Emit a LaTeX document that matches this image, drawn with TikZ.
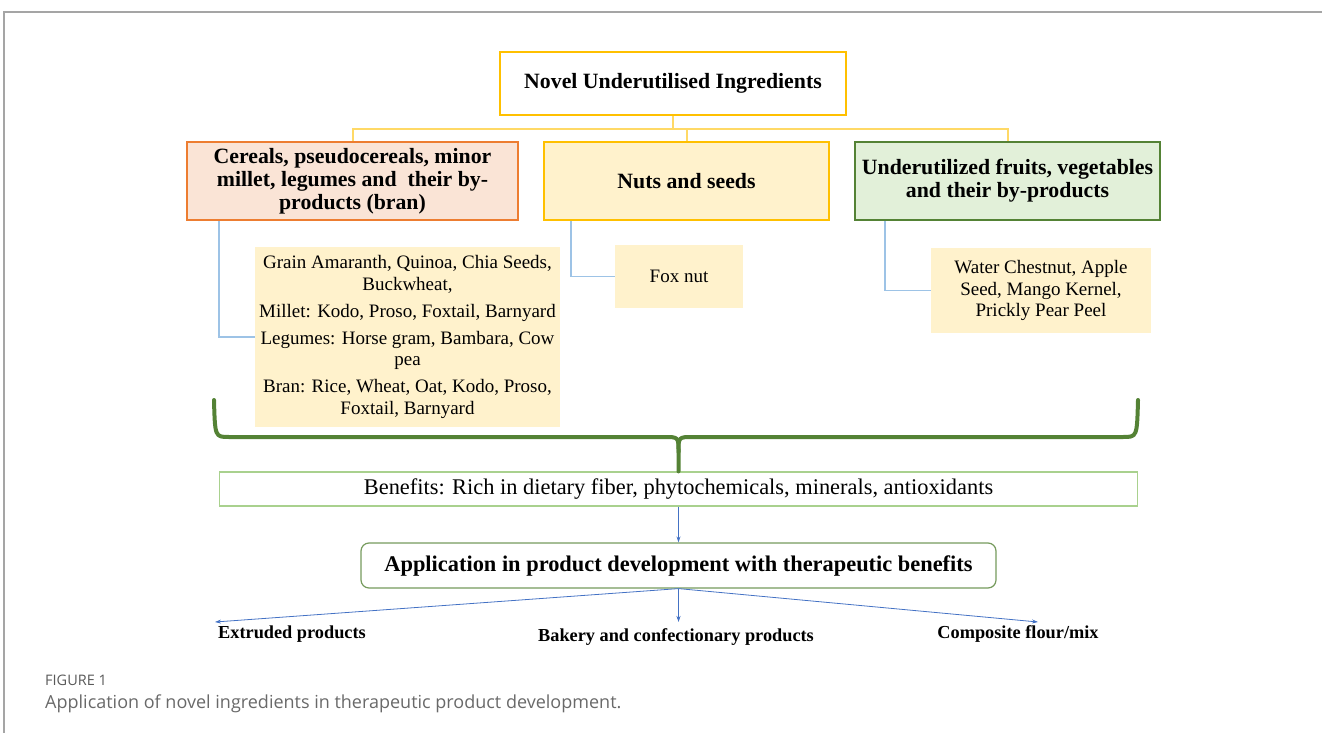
\documentclass[tikz,border=0pt]{standalone}
\usepackage{fontspec}
\setmainfont{Liberation Serif}
\newfontfamily\capfont{Open Sans}
\usetikzlibrary{arrows.meta,positioning}
\definecolor{framegray}{RGB}{165,165,165}
\definecolor{capgray}{RGB}{105,105,105}
\definecolor{goldline}{RGB}{255,192,0}
\definecolor{goldfill}{RGB}{255,242,204}
\definecolor{treegold}{RGB}{255,217,102}
\definecolor{orangeline}{RGB}{237,125,49}
\definecolor{orangefill}{RGB}{250,228,214}
\definecolor{leafgreen}{RGB}{84,130,53}
\definecolor{greenfill}{RGB}{226,240,217}
\definecolor{palegreen}{RGB}{169,209,142}
\definecolor{linkblue}{RGB}{157,195,230}
\definecolor{arrowblue}{RGB}{68,114,196}
\tikzstyle{topbox}=[rectangle,draw=goldline,line width=2.5pt,fill=white,
                  minimum width=346pt,minimum height=63pt,align=center,
                  font=\fontsize{21.8}{24}\selectfont\bfseries]
\tikzstyle{catbox}=[rectangle,line width=2.5pt,minimum height=78pt,align=center,
                  inner sep=6pt,font=\fontsize{21.8}{23}\selectfont\bfseries]
\tikzstyle{itembox}=[rectangle,fill=goldfill,align=center,inner sep=4pt,
                  font=\fontsize{19}{21.5}\selectfont]
\tikzstyle{tree}=[draw=treegold,line width=2pt]
\tikzstyle{link}=[draw=linkblue,line width=1.5pt]
\tikzstyle{brace}=[draw=leafgreen,line width=4pt,line cap=round]
\tikzstyle{arrow}=[-{Stealth[length=6pt,width=4pt]},line width=0.8pt,draw=arrowblue]
\tikzstyle{prodlabel}=[inner sep=0pt,font=\fontsize{18.3}{20}\selectfont\bfseries]

\begin{document}
\begin{tikzpicture}[x=1pt,y=-1pt]
  \useasboundingbox (0,0) rectangle (1322,733);
  % page frame
  \draw[framegray,line width=1.5pt] (4,733) -- (4,12) -- (1322,12);

  \node[topbox] (top) at (673,83.5) {Novel Underutilised Ingredients};

  \node[catbox,draw=orangeline,fill=orangefill,minimum width=331pt] (cereal) at (352.5,181)
    {Cereals, pseudocereals, minor\\millet, legumes and\ \ their by-\\products (bran)};
  \node[catbox,draw=goldline,fill=goldfill,minimum width=285pt] (nuts) at (686.5,181)
    {Nuts and seeds};
  \node[catbox,draw=leafgreen,fill=greenfill,minimum width=305pt] (fruits) at (1007.5,181)
    {Underutilized fruits, vegetables\\and their by-products};

  \draw[tree] (top.south) -- ++(0,13) coordinate (fork);
  \draw[tree] (fork) -| (cereal.north);
  \draw[tree] (fork) -| (nuts.north);
  \draw[tree] (fork) -| (fruits.north);

  \node[itembox,minimum width=301pt,minimum height=180pt] (grains) at (407.5,337)
    {Grain Amaranth, Quinoa, Chia Seeds,\\Buckwheat,\\[5.5pt]
     Millet: Kodo, Proso, Foxtail, Barnyard\\[5.5pt]
     Legumes: Horse gram, Bambara, Cow\\pea\\[5.5pt]
     Bran: Rice, Wheat, Oat, Kodo, Proso,\\Foxtail, Barnyard};
  \node[itembox,minimum width=128pt,minimum height=63pt] (foxnut) at (679,276.5) {Fox nut};
  \node[itembox,minimum width=220pt,minimum height=85pt] (fruititems) at (1041,290.5)
    {Water Chestnut, Apple\\Seed, Mango Kernel,\\Prickly Pear Peel};

  \draw[link] ([xshift=33pt]cereal.south west) |- (grains.west);
  \draw[link] ([xshift=28pt]nuts.south west) |- (foxnut.west);
  \draw[link] ([xshift=31pt]fruits.south west) |- (fruititems.west);

  \node[rectangle,draw=palegreen,line width=1.2pt,fill=white,minimum width=918pt,
        minimum height=34pt,font=\fontsize{22.4}{24}\selectfont] (benefits) at (678.5,489)
    {Benefits: Rich in dietary fiber, phytochemicals, minerals, antioxidants};

  % curly bracket gathering the three groups
  \draw[brace] (214,400) .. controls (215,437) .. (229,437) -- (664,437)
    .. controls (678.5,437) .. (678.5,452) -- (benefits.north);
  \draw[brace] (1138,400) .. controls (1137,437) .. (1123,437) -- (693,437)
    .. controls (678.5,437) .. (678.5,452);

  \node[rectangle,rounded corners=8pt,draw=leafgreen!80,line width=1.2pt,fill=white,
        minimum width=635pt,minimum height=45pt,font=\fontsize{22.4}{24}\selectfont\bfseries]
        (app) at (678.5,565.5) {Application in product development with therapeutic benefits};
  \draw[arrow] (benefits.south) -- (app.north);

  \node[prodlabel] (extruded) at (292,634) {Extruded products};
  \node[prodlabel] (bakery) at (676,637) {Bakery and confectionary products};
  \node[prodlabel] (composite) at (1018,634) {Composite flour/mix};
  \coordinate (toext) at (215,622);
  \coordinate (tobak) at (678.5,622);
  \coordinate (tocomp) at (1038,622);
  \draw[arrow] (app.south) -- (toext);
  \draw[arrow] (app.south) -- (tobak);
  \draw[arrow] (app.south) -- (tocomp);

  % caption
  \node[anchor=base west,inner sep=0pt,text=capgray!85!black,font=\capfont\fontsize{14.5}{16}\selectfont]
    (fignum) at (45,685) {FIGURE 1};
  \node[anchor=base west,inner sep=0pt,text=capgray,font=\capfont\fontsize{18}{20}\selectfont]
    (caption) at (45,708) {Application of novel ingredients in therapeutic product development.};
\end{tikzpicture}
\end{document}
